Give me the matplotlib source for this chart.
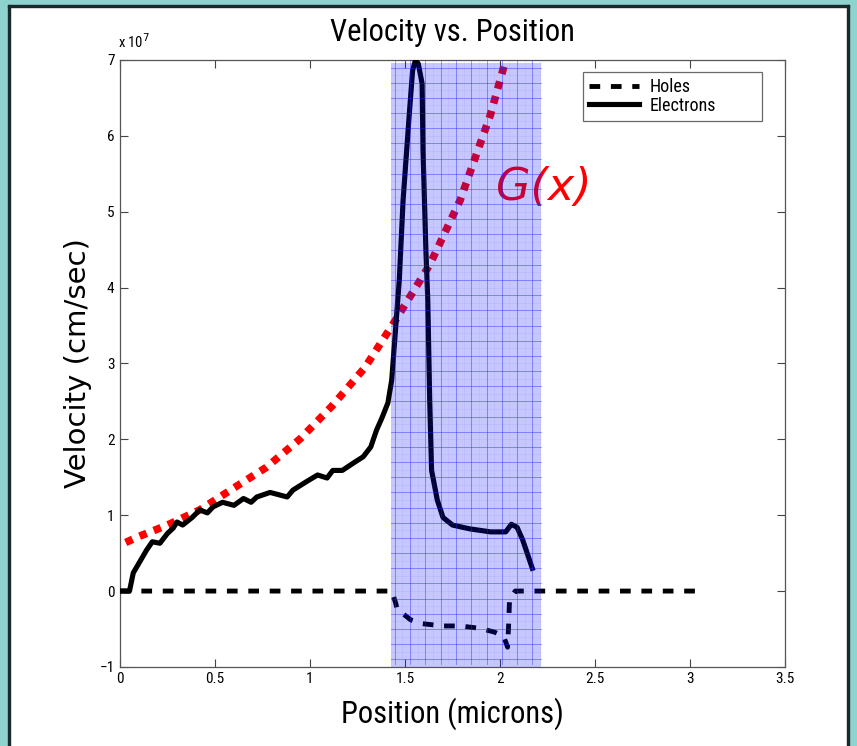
import numpy as np
import matplotlib.pyplot as plt
from matplotlib.patches import Rectangle

# electrons (solid), values in units of 1e7 cm/sec
elec_x = [0.0, 0.05, 0.07, 0.14, 0.17, 0.21, 0.25, 0.28, 0.30, 0.33, 0.38, 0.42, 0.46, 0.49,
          0.54, 0.60, 0.65, 0.69, 0.72, 0.79, 0.88, 0.91, 0.98, 1.04, 1.09, 1.12, 1.17, 1.23,
          1.28, 1.32, 1.35, 1.38, 1.41, 1.43, 1.45, 1.47, 1.49, 1.52, 1.54, 1.555, 1.57, 1.59,
          1.595, 1.61, 1.62, 1.63, 1.64, 1.67, 1.70, 1.75, 1.84, 1.95, 2.03, 2.06, 2.09, 2.12, 2.17]
elec_y = [0.0, 0.0, 0.24, 0.54, 0.65, 0.63, 0.76, 0.83, 0.91, 0.87, 0.97, 1.07, 1.03, 1.11,
          1.17, 1.13, 1.22, 1.17, 1.24, 1.30, 1.24, 1.33, 1.44, 1.53, 1.49, 1.59, 1.59, 1.69,
          1.77, 1.90, 2.12, 2.29, 2.48, 2.78, 3.44, 4.10, 5.15, 6.20, 6.86, 7.0, 6.95, 6.69,
          5.80, 4.49, 3.83, 2.52, 1.59, 1.20, 0.97, 0.87, 0.82, 0.78, 0.78, 0.88, 0.84, 0.67, 0.30]

# holes (dashed)
hole_x = [0.0, 1.43, 1.45, 1.46, 1.50, 1.53, 1.59, 1.70, 1.79, 1.89, 1.97, 2.02, 2.04, 2.045,
          2.05, 2.08, 3.05]
hole_y = [0.0, 0.0, -0.15, -0.25, -0.32, -0.38, -0.43, -0.46, -0.46, -0.49, -0.54, -0.60, -0.74,
          -0.47, -0.12, 0.0, 0.0]

# G(x) (red dotted)
g_x = [0.03, 0.09, 0.25, 0.42, 0.60, 0.77, 0.95, 1.12, 1.29, 1.45, 1.63, 1.79, 1.95, 2.03]
g_y = [0.64, 0.71, 0.87, 1.07, 1.36, 1.63, 2.01, 2.45, 2.95, 3.57, 4.30, 5.15, 6.28, 7.0]

span_lo, span_hi = 1.426, 2.216

narrow = ['Roboto Condensed', 'Liberation Sans Narrow', 'Roboto', 'DejaVu Sans']
plt.rcParams['font.family'] = narrow

fig = plt.figure(figsize=(8.57, 7.46), dpi=100)
ax = fig.add_axes([0.140, 0.106, 0.776, 0.8136])

# teal frame
teal = '#8fd3cf'
dark = '#1a2a2a'
fw, fh = 1 / 857, 1 / 746
fig.patches.append(Rectangle((0, 0), 8 * fw, 1, transform=fig.transFigure, color=teal, zorder=0))
fig.patches.append(Rectangle((0, 1 - 5 * fh), 1, 5 * fh, transform=fig.transFigure, color=teal, zorder=0))
fig.patches.append(Rectangle((1 - 8 * fw, 0), 8 * fw, 1, transform=fig.transFigure, color=teal, zorder=0))
fig.patches.append(Rectangle((8 * fw, 0), 2 * fw, 1 - 5 * fh, transform=fig.transFigure, color=dark, zorder=1))
fig.patches.append(Rectangle((8 * fw, 1 - 7 * fh), 1 - 16 * fw, 2 * fh, transform=fig.transFigure, color=dark, zorder=1))
fig.patches.append(Rectangle((1 - 10 * fw, 0), 2 * fw, 1 - 5 * fh, transform=fig.transFigure, color=dark, zorder=1))

ax.plot(hole_x, hole_y, color='black', lw=3.5, dashes=(2.2, 2.2), label='Holes', zorder=3)
ax.plot(elec_x, elec_y, color='black', lw=3.7, label='Electrons', zorder=3)
ax.plot(g_x, g_y, color='#ff0000', lw=5.5, linestyle=(0, (1.0, 1.0)), zorder=2)
ax.text(1.98, 5.15, 'G(x)', color='#ff0000', fontsize=32, style='italic',
        family=['DejaVu Sans'], zorder=2)

# shaded region with grid drawn on top of curves
ax.axvspan(span_lo, span_hi, ymin=0, ymax=0.995, color='#0000ff', alpha=0.22, lw=0, zorder=5)
for gx in np.arange(span_lo + 0.02, span_hi, 0.0805):
    ax.plot([gx, gx], [-0.96, 7.0], color='#2020ff', lw=0.7, alpha=0.42, zorder=6)
for gy in np.arange(-0.9, 7.0, 0.2):
    ax.plot([span_lo, span_hi], [gy, gy], color='#2020ff', lw=0.7, alpha=0.42, zorder=6)
for gx in np.arange(span_lo + 0.06, span_hi, 0.0805):
    ax.plot([gx, gx], [-0.96, 7.0], color='#6060ff', lw=0.4, alpha=0.15, zorder=6)
for gy in np.arange(-0.8, 7.0, 0.2):
    ax.plot([span_lo, span_hi], [gy, gy], color='#6060ff', lw=0.4, alpha=0.15, zorder=6)

ax.set_xlim(0, 3.5)
ax.set_ylim(-1, 7)
ax.set_xticks(np.arange(0, 3.51, 0.5))
ax.set_xticklabels(['0', '0.5', '1', '1.5', '2', '2.5', '3', '3.5'])
ax.set_yticks(range(-1, 8))
ax.set_yticklabels(['\u22121', '0', '1', '2', '3', '4', '5', '6', '7'])
ax.tick_params(direction='in', top=True, right=True, length=6, width=0.8,
               labelsize=11, colors='#444444', labelcolor='black', pad=4)
for s in ax.spines.values():
    s.set_color('#555555')
    s.set_linewidth(0.9)

ax.text(-0.01, 7.12, r'x 10$^{7}$', fontsize=10.5, ha='left', va='bottom')
ax.set_title('Velocity vs. Position', fontsize=22, pad=14)
ax.set_xlabel('Position (microns)', fontsize=22, labelpad=8)
ax.set_ylabel('Velocity (cm/sec)', fontsize=21, labelpad=5, family=['DejaVu Sans'])

leg = ax.legend(loc='upper left', bbox_to_anchor=(0.696, 0.8995, 0.269, 0.0805), mode='expand',
                fontsize=13, frameon=True, fancybox=False, handlelength=2.8, borderpad=0.32,
                labelspacing=0.05, handletextpad=0.6, borderaxespad=0)
leg.get_frame().set_edgecolor('#444444')
leg.get_frame().set_linewidth(0.9)
leg.set_zorder(10)

fig.savefig('out.png', dpi=100)
